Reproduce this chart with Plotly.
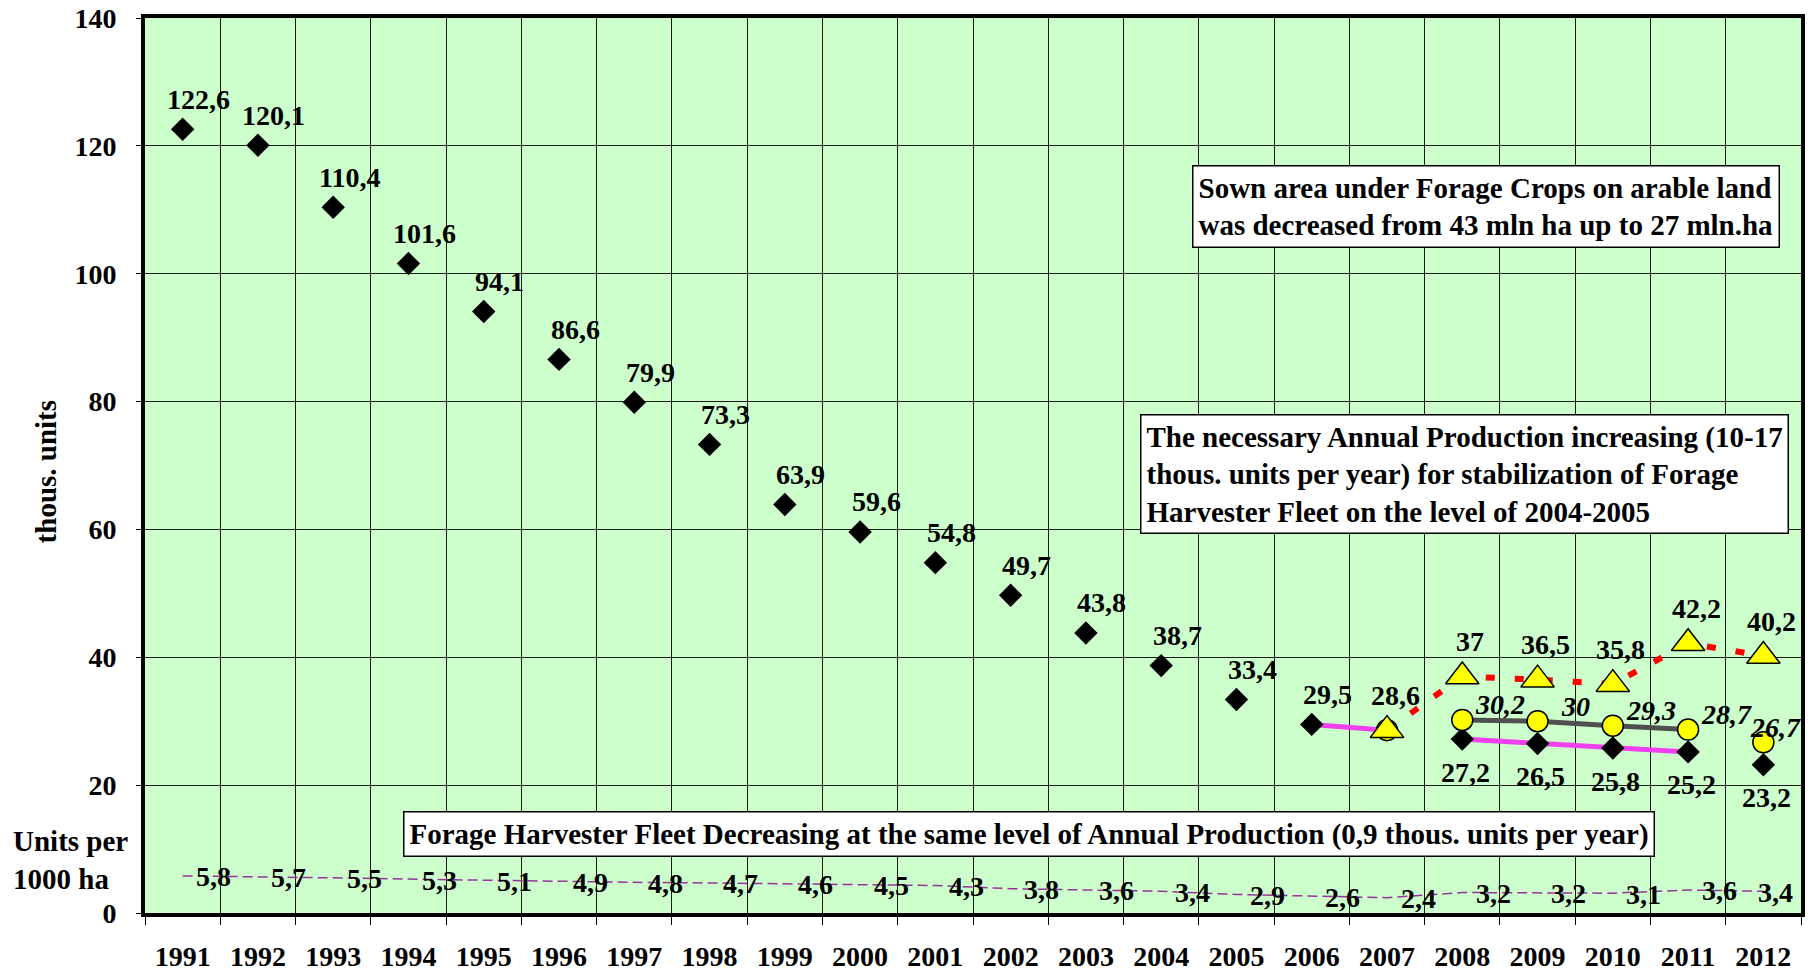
import plotly.graph_objects as go

# ---------------- data ----------------
years = list(range(1991, 2013))
year_labels = [str(y) for y in years]
fleet = [122.6, 120.1, 110.4, 101.6, 94.1, 86.6, 79.9, 73.3, 63.9, 59.6, 54.8,
         49.7, 43.8, 38.7, 33.4, 29.5, None, 27.2, 26.5, 25.8, 25.2, 23.2]
density = [5.8, 5.7, 5.5, 5.3, 5.1, 4.9, 4.8, 4.7, 4.6, 4.5, 4.3,
           3.8, 3.6, 3.4, 2.9, 2.6, 2.4, 3.2, 3.2, 3.1, 3.6, 3.4]
trend_a_years = [2006, 2007]
trend_a = [29.5, 28.6]
trend_b_years = [2008, 2009, 2010, 2011]
trend_b = [27.2, 26.5, 25.8, 25.2]
circle_years = [2007, 2008, 2009, 2010, 2011, 2012]
circle_vals = [28.6, 30.2, 30.0, 29.3, 28.7, 26.7]
circle_line_years = [2008, 2009, 2010, 2011]
circle_line_vals = [30.2, 30.0, 29.3, 28.7]
need_years = [2007, 2008, 2009, 2010, 2011, 2012]
need_vals = [28.6, 37.0, 36.5, 35.8, 42.2, 40.2]

box1 = "Sown area under Forage Crops on arable land<br>was decreased from 43 mln ha up to 27 mln.ha"
box2 = ("The necessary Annual Production increasing (10-17<br>thous. units per year) for stabilization of Forage"
        "<br>Harvester Fleet on the level of 2004-2005")
box3 = "Forage Harvester Fleet Decreasing at the same level of Annual Production (0,9 thous. units per year)"

FONT = "Liberation Serif, Times New Roman, serif"
FS = 28
BFS = 29


def fmt(v):
    return str(int(v)) if float(v).is_integer() else str(v).replace('.', ',')


fig = go.Figure()

# lines
fig.add_trace(go.Scatter(x=years, y=density, mode='lines',
                         line=dict(color='#993399', width=1.5, dash='10px,5px'), hoverinfo='skip'))
fig.add_trace(go.Scatter(x=trend_a_years, y=trend_a, mode='lines',
                         line=dict(color='#F040F0', width=5), hoverinfo='skip'))
fig.add_trace(go.Scatter(x=trend_b_years, y=trend_b, mode='lines',
                         line=dict(color='#F040F0', width=5), hoverinfo='skip'))
fig.add_trace(go.Scatter(x=circle_line_years, y=circle_line_vals, mode='lines',
                         line=dict(color='#505050', width=5), hoverinfo='skip'))
fig.add_trace(go.Scatter(x=need_years, y=need_vals, mode='lines',
                         line=dict(color='#FF0000', width=6, dash='9px,20px'), hoverinfo='skip'))

# markers
fig.add_trace(go.Scatter(x=years, y=fleet, mode='markers',
                         marker=dict(symbol='diamond', size=18, color='black'), hoverinfo='skip'))
fig.add_trace(go.Scatter(x=circle_years, y=circle_vals, mode='markers',
                         marker=dict(symbol='circle', size=21, color='#FFFF00',
                                     line=dict(color='black', width=1.5)), hoverinfo='skip'))
fig.add_trace(go.Scatter(x=need_years, y=need_vals, mode='markers',
                         marker=dict(symbol='triangle-up', size=29, color='#FFFF00',
                                     line=dict(color='black', width=1.5)), hoverinfo='skip'))

ann = []
lab_font = dict(family=FONT, size=FS, color='black', weight='bold')
for x, v in zip(years, fleet):
    if v is None:
        continue
    if x >= 2008:
        ann.append(dict(x=x, y=v, text=fmt(v), showarrow=False, font=lab_font, xshift=3, yshift=-33))
    else:
        ann.append(dict(x=x, y=v, text=fmt(v), showarrow=False, font=lab_font, xshift=16, yshift=30))
for x, v in zip(years, density):
    ann.append(dict(x=x, y=v, text=fmt(v), showarrow=False, font=lab_font,
                    xshift=(12 if x == 2012 else 31), yshift=-1))
for x, v in zip(circle_years[1:], circle_vals[1:]):
    ann.append(dict(x=x, y=v, text=fmt(v), showarrow=False,
                    font=dict(family=FONT, size=FS, color='black', weight='bold', style='italic'),
                    xshift=(12 if x == 2012 else 38), yshift=15))
for x, v in zip(need_years, need_vals):
    ann.append(dict(x=x, y=v, text=fmt(v), showarrow=False, font=lab_font, xshift=8, yshift=35))

box_font = dict(family=FONT, size=BFS, color='black', weight='bold')
for txt, px, py in [(box1, 0.632, 0.836), (box2, 0.601, 0.558), (box3, 0.156, 0.114)]:
    ann.append(dict(xref='paper', yref='paper', x=px, y=py, xanchor='left', yanchor='top',
                    text=txt, showarrow=False, align='left', font=box_font,
                    bgcolor='white', bordercolor='black', borderwidth=1.5, borderpad=5))

ann.append(dict(xref='paper', yref='paper', x=-0.06, y=0.493, text='thous. units', textangle=-90,
                showarrow=False, font=box_font, xanchor='center', yanchor='middle'))
ann.append(dict(xref='paper', yref='paper', x=-0.081, y=0.059, text='Units per<br>1000 ha',
                showarrow=False, font=box_font, xanchor='left', yanchor='middle', align='left'))

fig.update_layout(
    width=1814, height=972,
    margin=dict(l=145, r=13, t=18, b=59),
    paper_bgcolor='white', plot_bgcolor='#CCFFCC',
    showlegend=False,
    annotations=ann,
    font=dict(family=FONT, size=FS, color='black'),
)
fig.update_xaxes(range=[1990.5, 2012.5], tickvals=years, ticktext=year_labels,
                 ticks='', showgrid=False, zeroline=False, automargin=False,
                 showline=True, mirror=True, linewidth=4, linecolor='black',
                 tickfont=dict(family=FONT, size=FS, color='black', weight='bold'),
                 ticklabelstandoff=15,
                 minor=dict(tick0=1990.5, dtick=1, ticks='outside', ticklen=8, tickcolor='black',
                            tickwidth=1, showgrid=True, gridcolor='#1a1a1a', gridwidth=1))
fig.update_yaxes(range=[0, 140], dtick=20, ticks='outside', ticklen=5, tickcolor='black',
                 showgrid=True, gridcolor='#1a1a1a', gridwidth=1, zeroline=False, automargin=False,
                 showline=True, mirror=True, linewidth=4, linecolor='black',
                 tickfont=dict(family=FONT, size=FS, color='black', weight='bold'),
                 ticklabelstandoff=14)

fig.write_html("out.html", config={'displayModeBar': False},
               post_script="document.body.style.margin='0';document.body.style.overflow='hidden';")
